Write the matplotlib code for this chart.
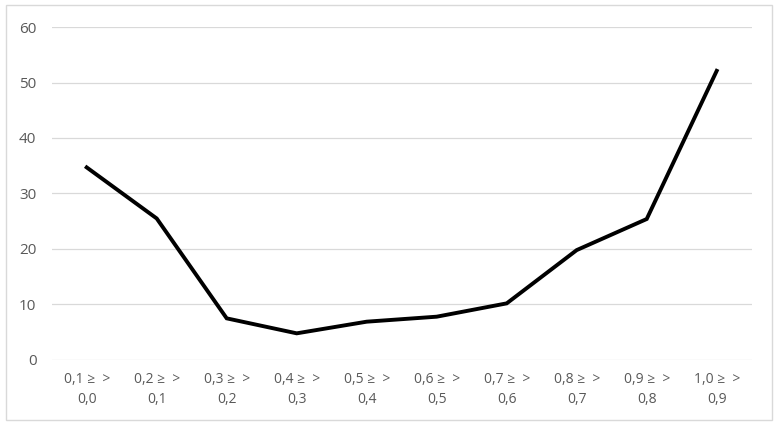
import matplotlib
matplotlib.use("Agg")
import matplotlib.pyplot as plt
from matplotlib.patches import Rectangle

# category labels (two lines as in the original chart)
categories = ["0,1 \u2265  >\n0,0", "0,2 \u2265  >\n0,1", "0,3 \u2265  >\n0,2",
              "0,4 \u2265  >\n0,3", "0,5 \u2265  >\n0,4", "0,6 \u2265  >\n0,5",
              "0,7 \u2265  >\n0,6", "0,8 \u2265  >\n0,7", "0,9 \u2265  >\n0,8",
              "1,0 \u2265  >\n0,9"]
values = [34.7, 25.5, 7.5, 4.8, 6.9, 7.8, 10.2, 19.8, 25.4, 52.1]
yticks = [0, 10, 20, 30, 40, 50, 60]

plt.rcParams['font.family'] = ['Open Sans', 'DejaVu Sans']

fig = plt.figure(figsize=(7.81, 4.26), dpi=100)
ax = fig.add_axes([0.0662, 0.155, 0.8963, 0.7816])

x = list(range(len(values)))
ax.plot(x, values, color='black', linewidth=2.8, solid_joinstyle='miter', zorder=3)

ax.set_xlim(-0.5, len(values) - 0.5)
ax.set_ylim(0, 60)
ax.set_yticks(yticks)
ax.set_xticks(x)
ax.set_xticklabels(categories, linespacing=1.45)
ax.grid(axis='y', color='#d9d9d9', linewidth=0.9)
ax.set_axisbelow(True)
for s in ax.spines.values():
    s.set_visible(False)
ax.tick_params(axis='x', length=0, labelsize=10, colors='#595959', pad=9)
ax.tick_params(axis='y', length=0, labelsize=11, colors='#595959', pad=11)

# outer chart border
fig.patches.append(Rectangle((6 / 781, 1 - 420 / 426), 766 / 781, 415 / 426,
                             transform=fig.transFigure, fill=False,
                             edgecolor='#d9d9d9', linewidth=1))

fig.savefig('out.png', dpi=100)
